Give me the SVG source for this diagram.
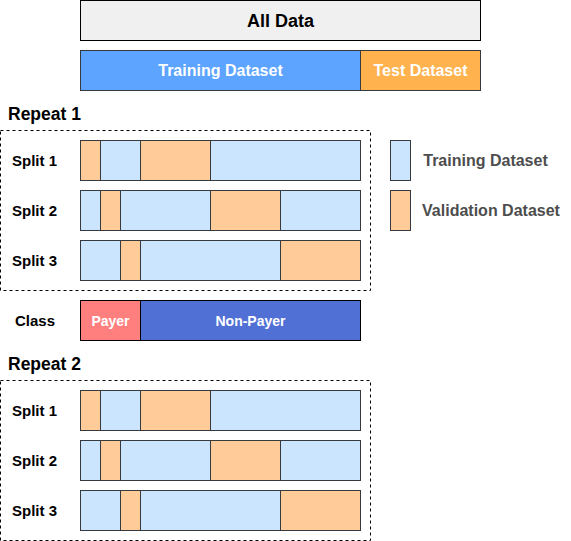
<svg xmlns="http://www.w3.org/2000/svg" width="571" height="541" viewBox="0 0 571 541">
<style>
text{font-family:"Liberation Sans",Arial,sans-serif;font-weight:bold}
.c{text-anchor:middle}
.tr{fill:#CCE5FF;stroke:#36393D;stroke-width:1}
.va{fill:#FFCC99;stroke:#36393D;stroke-width:1}
.lbl{font-size:15px;fill:#000}
.rep{font-size:17.5px;fill:#000}
.leg{font-size:16px;fill:#4D4D4D}
.dash{fill:none;stroke:#000;stroke-width:1;stroke-dasharray:3 3}
.w{fill:#fff}
</style>
<rect width="571" height="541" fill="#fff"/>
<g id="all-data">
<rect x="80.5" y="0.5" width="400" height="40" fill="#F0F0F0" stroke="#000"/>
<text class="c" x="280.5" y="26.5" font-size="18">All Data</text>
</g>
<g id="train-test">
<rect x="80.5" y="50.5" width="280" height="40" fill="#5CA4FF" stroke="#36393D"/>
<rect x="360.5" y="50.5" width="120" height="40" fill="#FFB24D" stroke="#36393D"/>
<text class="c w" x="220.5" y="76" font-size="16">Training Dataset</text>
<text class="c w" x="420.5" y="76" font-size="16">Test Dataset</text>
</g>
<g id="repeat1">
<text class="rep" x="8" y="120">Repeat 1</text>
<rect class="dash" x="0.5" y="130.5" width="370" height="160"/>
<text class="lbl c" x="34.5" y="165.5">Split 1</text>
<text class="lbl c" x="34.5" y="215.5">Split 2</text>
<text class="lbl c" x="34.5" y="265.5">Split 3</text>
<rect class="va" x="80.5" y="140.5" width="20" height="40"/>
<rect class="tr" x="100.5" y="140.5" width="40" height="40"/>
<rect class="va" x="140.5" y="140.5" width="70" height="40"/>
<rect class="tr" x="210.5" y="140.5" width="150" height="40"/>
<rect class="tr" x="80.5" y="190.5" width="20" height="40"/>
<rect class="va" x="100.5" y="190.5" width="20" height="40"/>
<rect class="tr" x="120.5" y="190.5" width="90" height="40"/>
<rect class="va" x="210.5" y="190.5" width="70" height="40"/>
<rect class="tr" x="280.5" y="190.5" width="80" height="40"/>
<rect class="tr" x="80.5" y="240.5" width="40" height="40"/>
<rect class="va" x="120.5" y="240.5" width="20" height="40"/>
<rect class="tr" x="140.5" y="240.5" width="140" height="40"/>
<rect class="va" x="280.5" y="240.5" width="80" height="40"/>
</g>
<g id="legend">
<rect class="tr" x="390.5" y="140.5" width="20" height="40"/>
<rect class="va" x="390.5" y="190.5" width="20" height="40"/>
<text class="leg c" x="485.5" y="165.5">Training Dataset</text>
<text class="leg c" x="491" y="215.5">Validation Dataset</text>
</g>
<g id="class">
<text class="lbl c" x="35" y="325.5" font-size="15.5">Class</text>
<rect x="80.5" y="300.5" width="60" height="40" fill="#FF7F7F" stroke="#000"/>
<rect x="140.5" y="300.5" width="220" height="40" fill="#5170D6" stroke="#000"/>
<text class="c w" x="110.5" y="325.5" font-size="14">Payer</text>
<text class="c w" x="250.5" y="325.5" font-size="14">Non-Payer</text>
</g>
<g id="repeat2">
<text class="rep" x="8" y="370">Repeat 2</text>
<rect class="dash" x="0.5" y="380.5" width="370" height="160"/>
<text class="lbl c" x="34.5" y="415.5">Split 1</text>
<text class="lbl c" x="34.5" y="465.5">Split 2</text>
<text class="lbl c" x="34.5" y="515.5">Split 3</text>
<rect class="va" x="80.5" y="390.5" width="20" height="40"/>
<rect class="tr" x="100.5" y="390.5" width="40" height="40"/>
<rect class="va" x="140.5" y="390.5" width="70" height="40"/>
<rect class="tr" x="210.5" y="390.5" width="150" height="40"/>
<rect class="tr" x="80.5" y="440.5" width="20" height="40"/>
<rect class="va" x="100.5" y="440.5" width="20" height="40"/>
<rect class="tr" x="120.5" y="440.5" width="90" height="40"/>
<rect class="va" x="210.5" y="440.5" width="70" height="40"/>
<rect class="tr" x="280.5" y="440.5" width="80" height="40"/>
<rect class="tr" x="80.5" y="490.5" width="40" height="40"/>
<rect class="va" x="120.5" y="490.5" width="20" height="40"/>
<rect class="tr" x="140.5" y="490.5" width="140" height="40"/>
<rect class="va" x="280.5" y="490.5" width="80" height="40"/>
</g>
<g id="connectors"></g>
</svg>
